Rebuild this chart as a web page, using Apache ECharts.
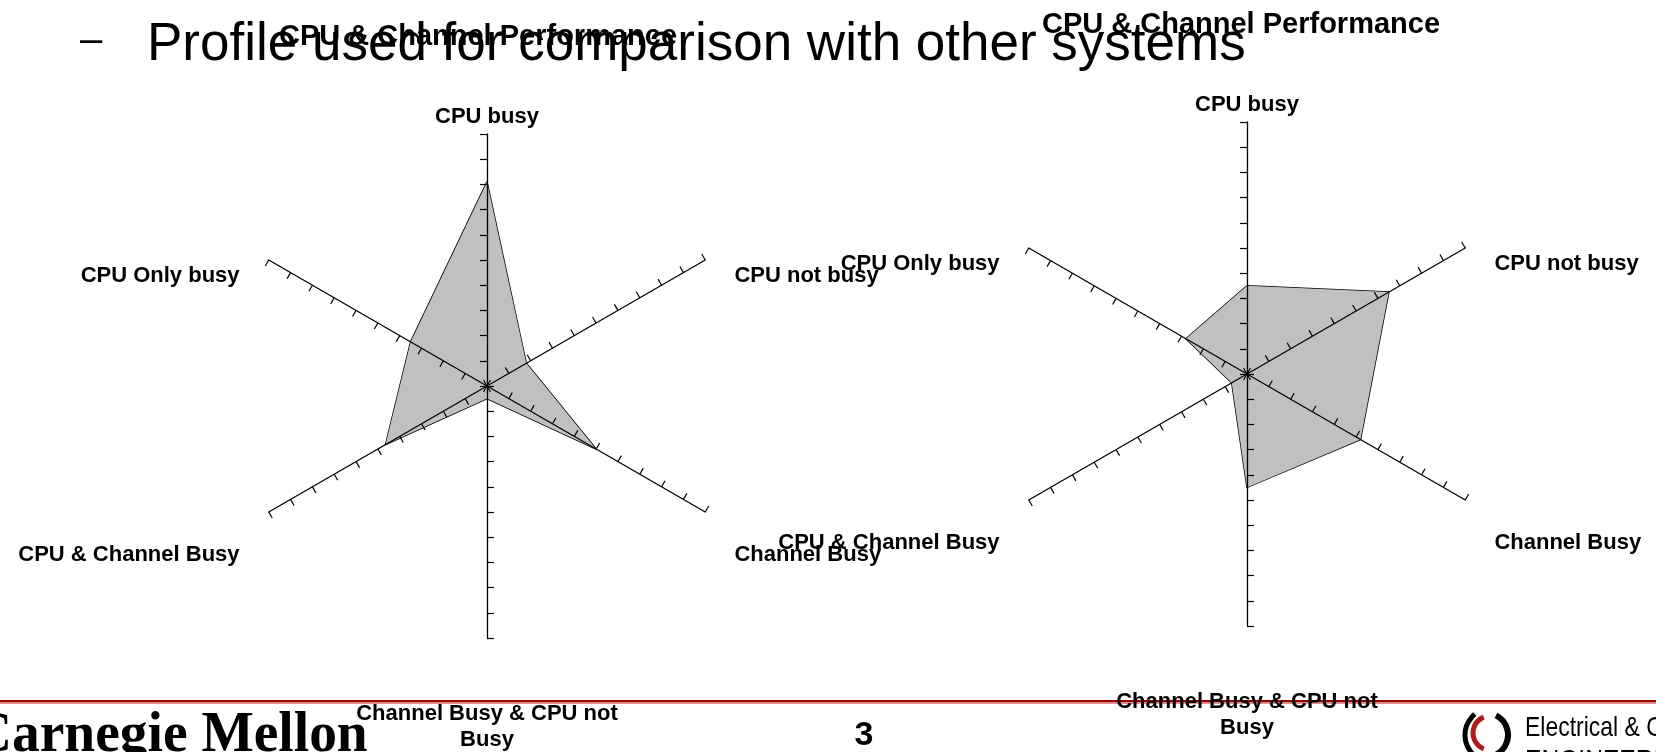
<!DOCTYPE html>
<html>
<head>
<meta charset="utf-8">
<script src="https://cdn.jsdelivr.net/npm/echarts@6/dist/echarts.min.js"></script>
<style>
  html, body { margin: 0; padding: 0; background: #fff; }
  #main { width: 1656px; height: 752px; }
</style>
</head>
<body>
<div id="main"></div>
<script>
// axes in the order echarts lays them out (counterclockwise from the top)
const categories = ['CPU busy', 'CPU Only busy', 'CPU & Channel Busy', 'Channel Busy & CPU not Busy', 'Channel Busy', 'CPU not busy'];
const leftValues = [81, 35, 46.5, 5, 50, 18];
const rightValues = [35, 28, 7, 45, 52, 65];
const axisTicks = [0, 10, 20, 30, 40, 50, 60, 70, 80, 90, 100];
const chartTitle = 'CPU & Channel Performance';
const slideTitle = 'Profile used for comparison with other systems';
const pageNumber = '3';

const FONT = '"Liberation Sans", Arial, sans-serif';

// which rich style each axis name gets (excel puts them a bit off the axis ends)
const nameStyle = {
  'CPU busy': 'top',
  'CPU Only busy': 'upper',
  'CPU & Channel Busy': 'lower',
  'Channel Busy & CPU not Busy': 'bottom',
  'Channel Busy': 'lower',
  'CPU not busy': 'upper'
};

const labelText = { fontFamily: FONT, fontSize: 22, fontWeight: 'bold', color: '#000' };

function makeRadar(center) {
  return {
    z: 3,
    center: center,
    radius: 252,
    startAngle: 90,
    shape: 'polygon',
    splitNumber: axisTicks.length - 1,
    nameGap: 6,
    indicator: categories.map(name => ({
      name: name,
      min: axisTicks[0],
      max: axisTicks[axisTicks.length - 1]
    })),
    axisName: {
      color: '#000',
      formatter: name => {
        const k = nameStyle[name];
        if (k === 'bottom') return '{gap| }\n{b|Channel Busy & CPU not}\n{b|Busy}';
        return '{' + k + '|' + name + '}';
      },
      rich: {
        top: Object.assign({ lineHeight: 22 }, labelText),
        upper: Object.assign({ lineHeight: 22, padding: [38, 24, 0, 24] }, labelText),
        lower: Object.assign({ lineHeight: 22, padding: [80, 24, 0, 24] }, labelText),
        gap: { fontSize: 10, lineHeight: 57, height: 57 },
        b: Object.assign({ lineHeight: 26 }, labelText)
      }
    },
    axisLine: { lineStyle: { color: '#000', width: 1.3, opacity: 1 } },
    axisTick: { show: true, length: 7, lineStyle: { color: '#000', width: 1.2, opacity: 1 } },
    axisLabel: { show: false },
    splitLine: { show: false },
    splitArea: { show: false }
  };
}

function makeSeries(idx, values) {
  return {
    type: 'radar',
    z: 1,
    radarIndex: idx,
    symbol: 'none',
    silent: true,
    lineStyle: { color: '#000', width: 1.5, opacity: 1 },
    areaStyle: { color: '#c0c0c0', opacity: 1 },
    data: [{ value: values }]
  };
}

const myChart = echarts.init(document.getElementById('main'));

myChart.setOption({
  animation: false,
  backgroundColor: '#fff',
  radar: [makeRadar([487, 386]), makeRadar([1247, 374])],
  series: [makeSeries(0, leftValues), makeSeries(1, rightValues)],
  graphic: [
    // slide title
    { type: 'text', x: 80, y: 41, style: { text: '\u2013', font: '40px ' + FONT, fill: '#000', verticalAlign: 'middle', textVerticalAlign: 'middle' } },
    { type: 'text', x: 147, y: 45, style: { text: slideTitle, font: '53px ' + FONT, fill: '#000', verticalAlign: 'middle', textVerticalAlign: 'middle' } },
    // chart titles
    { type: 'text', x: 478, y: 37, style: { text: chartTitle, font: 'bold 29px ' + FONT, fill: '#000', align: 'center', textAlign: 'center', verticalAlign: 'middle', textVerticalAlign: 'middle' } },
    { type: 'text', x: 1241, y: 25, style: { text: chartTitle, font: 'bold 29px ' + FONT, fill: '#000', align: 'center', textAlign: 'center', verticalAlign: 'middle', textVerticalAlign: 'middle' } },
    // footer rule
    { type: 'rect', shape: { x: 0, y: 700, width: 1656, height: 2.6 }, style: { fill: '#990000' } },
    { type: 'rect', shape: { x: 0, y: 702.6, width: 1656, height: 1.4 }, style: { fill: '#e39090' } },
    // footer
    { type: 'text', x: -28, y: 737, scaleX: 0.99, style: { text: 'Carnegie Mellon', font: 'bold 56px "Liberation Serif", serif', fill: '#000', verticalAlign: 'middle', textVerticalAlign: 'middle' } },
    { type: 'text', x: 864, y: 736, style: { text: pageNumber, font: 'bold 34px ' + FONT, fill: '#000', align: 'center', textAlign: 'center', verticalAlign: 'middle', textVerticalAlign: 'middle' } },
    { type: 'arc', shape: { cx: 1490, cy: 733, r: 17, startAngle: Math.PI * 0.62, endAngle: Math.PI * 1.38 }, style: { stroke: '#b01c1c', lineWidth: 5, fill: null } },
    { type: 'arc', shape: { cx: 1492, cy: 735, r: 27, startAngle: Math.PI * 0.72, endAngle: Math.PI * 1.28 }, style: { stroke: '#000', lineWidth: 5, fill: null } },
    { type: 'arc', shape: { cx: 1486, cy: 735, r: 22, startAngle: -Math.PI * 0.35, endAngle: Math.PI * 0.35 }, style: { stroke: '#000', lineWidth: 6, fill: null } },
    {
      type: 'text', x: 1525, y: 728, scaleX: 0.82,
      style: {
        text: '{k|Electrical }{r|&}{k| Computer}',
        font: '28px ' + FONT,
        verticalAlign: 'middle', textVerticalAlign: 'middle',
        rich: {
          k: { fontFamily: FONT, fontSize: 28, color: '#000' },
          r: { fontFamily: FONT, fontSize: 28, color: '#b01c1c' }
        }
      }
    },
    { type: 'text', x: 1525, y: 762, scaleX: 0.82, style: { text: 'ENGINEERING', font: '30px ' + FONT, fill: '#000', verticalAlign: 'middle', textVerticalAlign: 'middle' } }
  ]
});

window.addEventListener('resize', () => {
  myChart.resize();
});
</script>
</body>
</html>
